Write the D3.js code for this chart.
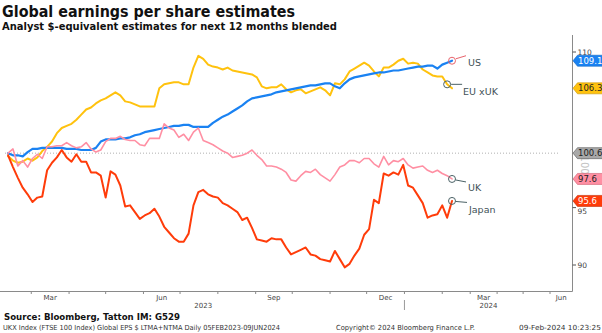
<!DOCTYPE html>
<html><head><meta charset="utf-8">
<script src="https://cdn.jsdelivr.net/npm/d3@7"></script>
<style>
html,body{margin:0;padding:0;background:#fff;}
svg{display:block;font-family:"DejaVu Sans",Verdana,sans-serif;}
</style></head><body>
<svg id="chart" width="602" height="333"></svg>
<script>
// ---------------- DATA ----------------
const titleText = "Global earnings per share estimates";
const subtitleText = "Analyst $-equivalent estimates for next 12 months blended";
const sourceText = "Source: Bloomberg, Tatton IM: G529";
const footerLeft = "UKX Index (FTSE 100 Index) Global EPS $ LTMA+NTMA  Daily 05FEB2023-09JUN2024";
const footerMid = "Copyright\u00A9 2024 Bloomberg Finance L.P.";
const footerRight = "09-Feb-2024 10:23:25";

// observation dates: every 4 days, 10 Feb 2023 .. 9 Feb 2024
const dates = d3.timeDay.range(new Date(2023,1,10), new Date(2024,1,10), 4);

const usValues = [100.0,99.8,99.8,99.7,100.1,100.4,100.4,100.5,100.5,100.5,
 100.5,100.5,100.4,100.4,100.4,100.3,100.3,100.3,100.5,101.1,
 101.3,101.3,101.3,101.4,101.4,101.5,101.7,101.8,102.0,102.1,
 102.2,102.3,102.4,102.5,102.6,102.6,102.7,102.7,102.5,102.5,
 102.5,102.5,102.9,103.2,103.5,103.7,104.0,104.3,104.6,105.0,
 105.3,105.4,105.5,105.6,105.7,105.9,106.0,106.1,106.2,106.3,
 106.4,106.5,106.6,106.6,106.7,106.8,106.8,106.5,106.3,106.8,
 107.2,107.4,107.5,107.6,107.7,107.8,107.9,107.9,108.0,108.1,
 108.1,108.2,108.3,108.4,108.5,108.5,108.6,108.6,108.3,108.7,
 108.9,109.1];

const euValues = [99.7,99.3,99.1,99.2,99.5,99.3,99.6,100.2,100.6,101.1,
 101.9,102.4,102.6,102.8,103.2,103.7,104.2,104.4,104.8,105.1,
 105.3,105.6,105.9,105.6,105.0,104.9,104.7,104.5,104.5,104.5,
 104.5,106.3,106.7,106.8,106.9,106.9,106.7,106.7,108.4,109.6,
 109.3,108.7,108.5,108.4,108.2,108.4,108.1,108.0,107.9,107.8,
 107.7,107.4,106.5,106.3,106.4,106.4,106.7,106.2,105.9,106.1,
 106.2,105.8,106.0,106.2,106.4,106.1,105.6,106.8,106.7,107.2,
 108.0,108.3,108.6,108.9,108.6,108.0,107.5,108.4,108.4,108.7,
 109.1,109.3,108.8,108.9,108.8,108.2,107.9,107.6,107.5,107.5,
 106.7,106.3];

const ukValues = [100.0,100.4,98.8,99.3,98.7,99.5,99.9,99.5,100.6,100.6,
 100.7,100.7,101.0,100.7,100.5,100.6,101.0,100.4,100.1,100.3,
 101.1,101.4,101.4,101.6,101.3,101.2,101.2,100.8,100.7,101.4,
 101.4,101.4,102.8,102.4,102.2,101.5,101.8,101.2,102.0,102.4,
 101.2,101.0,100.8,100.5,100.2,100.0,99.6,99.7,99.8,100.0,
 100.3,99.8,99.4,98.8,98.8,98.7,98.5,98.2,97.5,97.4,
 97.9,98.3,98.2,98.5,98.0,97.7,97.4,98.0,98.7,98.9,
 99.3,99.3,99.1,99.5,99.5,99.0,98.7,99.7,98.9,99.3,
 99.2,99.5,98.9,98.6,98.7,98.8,98.4,98.2,98.4,98.1,
 97.9,97.6];

const japanValues = [99.8,98.7,97.7,96.8,96.2,95.5,95.9,96.0,98.4,99.1,
 99.6,100.3,99.6,99.2,99.9,99.2,99.2,98.2,98.2,97.9,
 95.9,98.3,98.0,97.0,95.1,95.2,94.6,94.0,94.3,94.5,
 94.9,94.2,93.3,92.8,92.3,92.0,92.0,92.7,95.2,96.4,
 96.6,96.2,96.0,95.9,95.4,95.2,94.9,94.6,93.9,94.1,
 93.2,92.2,92.1,92.0,92.3,92.2,92.2,91.5,90.9,91.1,
 91.3,91.5,90.9,90.8,90.5,90.4,90.3,91.2,90.5,89.8,
 90.1,90.8,91.4,92.6,93.1,95.7,95.4,98.1,97.9,98.2,
 98.0,98.9,97.0,96.8,96.1,95.4,94.1,94.3,94.4,95.2,
 94.1,95.6];

const seriesNames = ["US","EU xUK","UK","Japan"];
const lastValueLabels = ["109.1","106.3","97.6","95.6"];
const refLevel = 100;
const refLabel = "100.6";
const yTickValues = [90,95,110];
const hiddenTick = 100;

// ---------------- STYLE ----------------
const colors = {"US":"#1a82f2","EU xUK":"#ffc20e","UK":"#ff8fa3","Japan":"#ff3c0a"};
const widths = {"US":2.2,"EU xUK":2,"UK":1.6,"Japan":2};
const svg = d3.select("#chart");

const plotRight = 572.5, axisY = 291.5;
const x = d3.scaleTime()
  .domain([new Date(2023,1,5), new Date(2024,1,9), new Date(2024,5,1)])
  .range([2, 452, 550]);
const y = d3.scaleLog().domain([90,110]).range([265,52]);

const seriesVals = {"US":usValues,"EU xUK":euValues,"UK":ukValues,"Japan":japanValues};
const series = seriesNames.map((n,i)=>({name:n, label:lastValueLabels[i],
  pts: dates.map((d,j)=>({date:d, v:seriesVals[n][j]}))}));

// Titles
svg.append("text").attr("x",2).attr("y",17).attr("font-size",16).attr("font-weight","bold")
  .attr("fill","#111").attr("textLength",293).attr("lengthAdjust","spacingAndGlyphs").text(titleText);
svg.append("text").attr("x",2).attr("y",29.5).attr("font-size",10.5).attr("font-weight","bold")
  .attr("fill","#111").attr("textLength",335).attr("lengthAdjust","spacingAndGlyphs").text(subtitleText);

// Reference dotted line
svg.append("line").attr("x1",5).attr("x2",558).attr("y1",y(refLevel)).attr("y2",y(refLevel))
  .attr("stroke","#b0b0b0").attr("stroke-width",1).attr("stroke-dasharray","1,2");

// Lines
const line = d3.line().x(d=>x(d.date)).y(d=>y(d.v));
const drawOrder = ["EU xUK","US","UK","Japan"];
drawOrder.forEach(n=>{
  const s = series.find(s=>s.name===n);
  svg.append("path").datum(s.pts).attr("d",line).attr("fill","none")
    .attr("stroke",colors[n]).attr("stroke-width",widths[n])
    .attr("stroke-linejoin","round").attr("stroke-linecap","round");
});

// X axis
svg.append("line").attr("x1",0).attr("x2",plotRight).attr("y1",axisY).attr("y2",axisY)
  .attr("stroke","#8a8a8a").attr("stroke-width",1);
const months = d3.timeMonth.range(new Date(2023,2,1), new Date(2024,5,2));
months.forEach((m,i)=>{
  const xm = x(m);
  svg.append("line").attr("x1",xm).attr("x2",xm).attr("y1",axisY).attr("y2",axisY+2.5)
    .attr("stroke","#8a8a8a");
  if ([2,5,8,11].includes(m.getMonth())) {
    const nx = Math.min(x(d3.timeMonth.offset(m,1)), plotRight);
    svg.append("text").attr("x",(xm+nx)/2).attr("y",300).attr("text-anchor","middle")
      .attr("font-size",7).attr("fill","#444").text(d3.timeFormat("%b")(m));
  }
});
const yearBreak = x(new Date(2024,0,1));
svg.append("line").attr("x1",yearBreak).attr("x2",yearBreak).attr("y1",300).attr("y2",310)
  .attr("stroke","#9a9a9a");
[["2023", 2, yearBreak],["2024", yearBreak, plotRight]].forEach(([t,a,b])=>{
  svg.append("text").attr("x",(a+b)/2).attr("y",308).attr("text-anchor","middle")
    .attr("font-size",7).attr("fill","#444").text(t);
});

// Right axis
svg.append("line").attr("x1",plotRight).attr("x2",plotRight).attr("y1",35).attr("y2",axisY)
  .attr("stroke","#8a8a8a");
yTickValues.forEach(v=>{
  svg.append("line").attr("x1",plotRight).attr("x2",plotRight+3.5).attr("y1",y(v)).attr("y2",y(v))
    .attr("stroke","#555");
  // the 95 label sits just under the 95.6 tag, as in the reference
  const shift = (v===95) ? 3.5 : 0;
  svg.append("text").attr("x",577.5).attr("y",y(v)+shift).attr("dy","0.35em").attr("font-size",7.5)
    .attr("fill","#444").text(d3.format("d")(v));
});
svg.append("text").attr("transform",`translate(584,${y(hiddenTick)+12}) rotate(90)`)
  .attr("text-anchor","middle").attr("dy","0.35em").attr("font-size",10).attr("fill","#c4c4c4")
  .text(d3.format("d")(hiddenTick));

// Value tags
const tags = [
  {v:usValues[usValues.length-1], label:lastValueLabels[0], fill:colors["US"], stroke:"#1266c0", text:"#fff"},
  {v:euValues[euValues.length-1], label:lastValueLabels[1], fill:colors["EU xUK"], stroke:"#c99400", text:"#222"},
  {v:refLevel, label:refLabel, fill:"#a8a8a8", stroke:"#555", text:"#222"},
  {v:ukValues[ukValues.length-1], label:lastValueLabels[2], fill:colors["UK"], stroke:"#d0606f", text:"#222"},
  {v:japanValues[japanValues.length-1], label:lastValueLabels[3], fill:colors["Japan"], stroke:"#c02800", text:"#fff"}
];
tags.forEach(t=>{
  const cy = y(t.v), h = 5.5, x0 = plotRight+0.5;
  svg.append("path").attr("d",`M${x0},${cy}L${x0+4.5},${cy-h}L603,${cy-h}L603,${cy+h}L${x0+4.5},${cy+h}Z`)
    .attr("fill",t.fill).attr("stroke",t.stroke).attr("stroke-width",0.6);
  svg.append("text").attr("x",578).attr("y",cy).attr("dy","0.36em").attr("font-size",8.5)
    .attr("fill",t.text).text(t.label);
});

// Annotations
const annots = [
  {name:"US", idx:usValues.length-1, ring:"#e8636c", l:[4,-2,14,-5], t:[16,5]},
  {name:"EU xUK", idx:euValues.length-2, ring:"#4b6266", l:[4,0,15,0], t:[16,11]},
  {name:"UK", idx:ukValues.length-1, ring:"#4b6266", l:[3.5,1,14,3], t:[16,12.5]},
  {name:"Japan", idx:japanValues.length-1, ring:"#4b6266", l:[3.5,0.5,15,1.5], t:[17,12]}
];
annots.forEach(a=>{
  const s = series.find(s=>s.name===a.name);
  const p = s.pts[a.idx];
  const cx = x(p.date), cy = y(p.v);
  svg.append("circle").attr("cx",cx).attr("cy",cy).attr("r",3.5).attr("fill","none")
    .attr("stroke",a.ring).attr("stroke-width",1);
  svg.append("line").attr("x1",cx+a.l[0]).attr("y1",cy+a.l[1]).attr("x2",cx+a.l[2]).attr("y2",cy+a.l[3])
    .attr("stroke",a.ring).attr("stroke-width",1);
  svg.append("text").attr("x",cx+a.t[0]).attr("y",cy+a.t[1]).attr("font-size",9.5)
    .attr("fill","#3f5257").text(a.name);
});

// Footer
svg.append("text").attr("x",4).attr("y",320).attr("font-size",9.5).attr("font-weight","bold")
  .attr("fill","#111").attr("textLength",176).attr("lengthAdjust","spacingAndGlyphs").text(sourceText);
svg.append("text").attr("x",3).attr("y",329.5).attr("font-size",7).attr("fill","#333")
  .attr("textLength",277).attr("lengthAdjust","spacingAndGlyphs").text(footerLeft);
svg.append("text").attr("x",336).attr("y",329.5).attr("font-size",7).attr("fill","#333")
  .attr("textLength",139).attr("lengthAdjust","spacingAndGlyphs").text(footerMid);
svg.append("text").attr("x",519).attr("y",329.5).attr("font-size",7).attr("fill","#333")
  .attr("textLength",82).attr("lengthAdjust","spacingAndGlyphs").text(footerRight);
</script>
</body></html>
